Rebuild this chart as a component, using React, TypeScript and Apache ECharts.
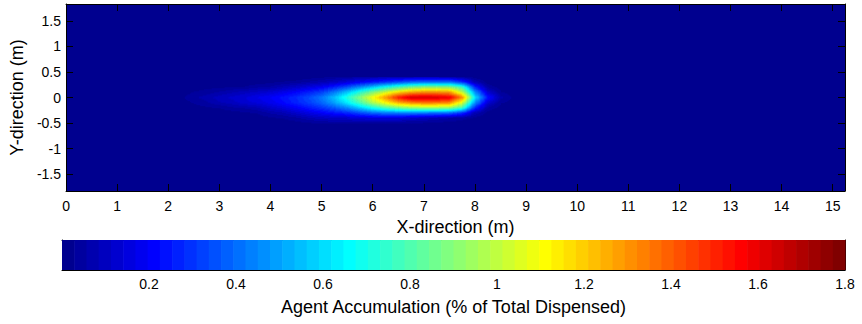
import React, { useEffect, useRef } from "react";
import * as echarts from "echarts";

// ---- axis definitions ----
const X_RANGE = [0, 15.24];
const Y_RANGE = [-1.83, 1.83];
const CB_RANGE = [0, 1.8];
const X_TICKS = [0, 1, 2, 3, 4, 5, 6, 7, 8, 9, 10, 11, 12, 13, 14, 15];
const Y_TICKS = [-1.5, -1, -0.5, 0, 0.5, 1, 1.5];
const CB_TICKS = [0.2, 0.4, 0.6, 0.8, 1, 1.2, 1.4, 1.6, 1.8];

// ---- data grid (node positions and values) ----
const X_NODES = [
  2.25, 2.5, 2.75, 3.0, 3.25, 3.5, 3.75, 4.0, 4.25, 4.5, 4.75, 5.0, 5.25, 5.5,
  5.75, 6.0, 6.25, 6.5, 6.75, 7.0, 7.25, 7.5, 7.75, 8.0, 8.25, 8.5, 8.75,
];
const Y_NODES = [0.4, 0.3, 0.2, 0.1, 0.0, -0.1, -0.2, -0.3, -0.4, -0.5];

const ROW_P04 = [0, 0, 0, 0, 0, 0, 0, 0, 0, 0, 0.01, 0.02, 0.03, 0.04, 0.05, 0.06, 0.07, 0.08, 0.08, 0.08, 0.08, 0.07, 0.04, 0.01, 0, 0, 0];
const ROW_P03 = [0, 0, 0, 0, 0, 0.01, 0.01, 0.02, 0.03, 0.04, 0.06, 0.08, 0.11, 0.15, 0.2, 0.25, 0.3, 0.35, 0.4, 0.42, 0.42, 0.42, 0.3, 0.08, 0.01, 0, 0];
const ROW_P02 = [0, 0.01, 0.02, 0.02, 0.03, 0.03, 0.05, 0.06, 0.09, 0.12, 0.16, 0.2, 0.27, 0.36, 0.47, 0.58, 0.7, 0.8, 0.88, 0.93, 0.93, 0.92, 0.78, 0.28, 0.05, 0.01, 0];
const ROW_P01 = [0.01, 0.03, 0.04, 0.06, 0.08, 0.1, 0.12, 0.14, 0.18, 0.22, 0.27, 0.33, 0.44, 0.58, 0.74, 0.9, 1.05, 1.18, 1.27, 1.31, 1.31, 1.29, 1.02, 0.48, 0.14, 0.03, 0.01];
const ROW_000 = [0.02, 0.05, 0.07, 0.1, 0.12, 0.14, 0.17, 0.2, 0.24, 0.28, 0.34, 0.42, 0.55, 0.72, 0.9, 1.1, 1.3, 1.52, 1.65, 1.66, 1.64, 1.6, 1.33, 0.62, 0.24, 0.07, 0.02];
const ROW_M01 = [0.01, 0.03, 0.05, 0.08, 0.1, 0.13, 0.15, 0.18, 0.22, 0.27, 0.32, 0.39, 0.5, 0.64, 0.8, 0.97, 1.12, 1.26, 1.34, 1.37, 1.36, 1.33, 1.06, 0.48, 0.14, 0.03, 0.01];
const ROW_M02 = [0, 0.01, 0.02, 0.03, 0.05, 0.06, 0.08, 0.12, 0.15, 0.2, 0.25, 0.3, 0.37, 0.46, 0.58, 0.7, 0.8, 0.88, 0.93, 0.95, 0.95, 0.93, 0.78, 0.28, 0.05, 0.01, 0];
const ROW_M03 = [0, 0, 0, 0, 0.01, 0.02, 0.03, 0.06, 0.08, 0.12, 0.16, 0.2, 0.24, 0.28, 0.34, 0.4, 0.43, 0.44, 0.44, 0.43, 0.42, 0.4, 0.3, 0.08, 0.01, 0, 0];
const ROW_M04 = [0, 0, 0, 0, 0, 0, 0.01, 0.02, 0.03, 0.05, 0.08, 0.1, 0.11, 0.12, 0.14, 0.15, 0.15, 0.15, 0.12, 0.1, 0.08, 0.06, 0.04, 0.01, 0, 0, 0];
const ROW_M05 = [0, 0, 0, 0, 0, 0, 0, 0, 0, 0.01, 0.02, 0.03, 0.04, 0.04, 0.04, 0.04, 0.03, 0.03, 0.02, 0.02, 0.01, 0.01, 0, 0, 0, 0, 0];

const GRID_ROWS = [ROW_P04, ROW_P03, ROW_P02, ROW_P01, ROW_000, ROW_M01, ROW_M02, ROW_M03, ROW_M04, ROW_M05];

const COLORBAR_STEPS = 64;
const SUB_X = 10; // shading subdivisions per quad (rendering only)
const SUB_Y = 5;

// ---- jet colormap ----
function clamp01(v: number) {
  return Math.max(0, Math.min(1, v));
}
function jet(t: number): string {
  const r = clamp01(Math.min(4 * t - 1.5, -4 * t + 4.5));
  const g = clamp01(Math.min(4 * t - 0.5, -4 * t + 3.5));
  const b = clamp01(Math.min(4 * t + 0.5, -4 * t + 2.5));
  const h = (v: number) => Math.round(v * 255).toString(16).padStart(2, "0");
  return "#" + h(r) + h(g) + h(b);
}
const JET64 = Array.from({ length: COLORBAR_STEPS }, (_, i) => jet((i + 1) / COLORBAR_STEPS));
function colorOf(v: number) {
  const t = (v - CB_RANGE[0]) / (CB_RANGE[1] - CB_RANGE[0]);
  const idx = Math.max(0, Math.min(COLORBAR_STEPS - 1, Math.floor(t * COLORBAR_STEPS)));
  return JET64[idx];
}

const FONT = "'Liberation Sans', Arial, Helvetica, sans-serif";

export default function App() {
  const ref = useRef<HTMLDivElement>(null);

  useEffect(() => {
    if (!ref.current) return;
    const chart = echarts.init(ref.current, null, { renderer: "svg" });

    // quads between neighbouring nodes: [x0, yTop, x1, yBottom, vTL, vTR, vBL, vBR]
    const quads: number[][] = [];
    for (let r = 0; r < GRID_ROWS.length - 1; r++) {
      for (let c = 0; c < X_NODES.length - 1; c++) {
        const vTL = GRID_ROWS[r][c];
        const vTR = GRID_ROWS[r][c + 1];
        const vBL = GRID_ROWS[r + 1][c];
        const vBR = GRID_ROWS[r + 1][c + 1];
        if (vTL + vTR + vBL + vBR <= 0) continue;
        quads.push([X_NODES[c], Y_NODES[r], X_NODES[c + 1], Y_NODES[r + 1], vTL, vTR, vBL, vBR]);
      }
    }
    const cbData = JET64.map((_, i) => [i]);

    const axisLine = { show: true, onZero: false, lineStyle: { color: "#000", width: 1 } };
    const labelStyle = { color: "#000", fontSize: 14, fontFamily: FONT };
    const nameStyle = { color: "#000", fontSize: 18, fontFamily: FONT };

    chart.setOption({
      animation: false,
      backgroundColor: "#fff",
      grid: [
        { left: 62, top: 4, width: 783, height: 187, show: true, backgroundColor: JET64[0], borderWidth: 0 },
        { left: 62, top: 240, width: 783, height: 30, show: false },
      ],
      xAxis: [
        {
          gridIndex: 0, type: "value", min: X_RANGE[0], max: X_RANGE[1], position: "bottom",
          axisLine, splitLine: { show: false },
          axisTick: { show: true, inside: true, length: 7, customValues: X_TICKS, lineStyle: { color: "#000" } },
          axisLabel: { ...labelStyle, margin: 8, customValues: X_TICKS },
          name: "X-direction (m)", nameLocation: "middle", nameGap: 26, nameTextStyle: nameStyle,
        },
        {
          gridIndex: 0, type: "value", min: X_RANGE[0], max: X_RANGE[1], position: "top",
          axisLine, splitLine: { show: false },
          axisTick: { show: true, inside: true, length: 7, customValues: X_TICKS, lineStyle: { color: "#000" } },
          axisLabel: { show: false },
        },
        {
          gridIndex: 1, type: "value", min: CB_RANGE[0], max: CB_RANGE[1], position: "bottom",
          axisLine, splitLine: { show: false },
          axisTick: { show: true, inside: true, length: 5, customValues: CB_TICKS, lineStyle: { color: "#000" } },
          axisLabel: { ...labelStyle, margin: 7, customValues: CB_TICKS },
          name: "Agent Accumulation (% of Total Dispensed)", nameLocation: "middle", nameGap: 28, nameTextStyle: nameStyle,
        },
        {
          gridIndex: 1, type: "value", min: CB_RANGE[0], max: CB_RANGE[1], position: "top",
          axisLine, splitLine: { show: false },
          axisTick: { show: true, inside: true, length: 5, customValues: CB_TICKS, lineStyle: { color: "#000" } },
          axisLabel: { show: false },
        },
      ],
      yAxis: [
        {
          gridIndex: 0, type: "value", min: Y_RANGE[0], max: Y_RANGE[1], position: "left",
          axisLine, splitLine: { show: false },
          axisTick: { show: true, inside: true, length: 7, customValues: Y_TICKS, lineStyle: { color: "#000" } },
          axisLabel: { ...labelStyle, margin: 5, customValues: Y_TICKS },
          name: "Y-direction (m)", nameLocation: "middle", nameGap: 34, nameRotate: 90, nameTextStyle: nameStyle,
        },
        {
          gridIndex: 0, type: "value", min: Y_RANGE[0], max: Y_RANGE[1], position: "right",
          axisLine, splitLine: { show: false },
          axisTick: { show: true, inside: true, length: 7, customValues: Y_TICKS, lineStyle: { color: "#000" } },
          axisLabel: { show: false },
        },
        {
          gridIndex: 1, type: "value", min: 0, max: 1, position: "left",
          axisLine, splitLine: { show: false }, axisTick: { show: false }, axisLabel: { show: false },
        },
        {
          gridIndex: 1, type: "value", min: 0, max: 1, position: "right",
          axisLine, splitLine: { show: false }, axisTick: { show: false }, axisLabel: { show: false },
        },
      ],
      series: [
        {
          type: "custom",
          xAxisIndex: 0,
          yAxisIndex: 0,
          z: 1,
          encode: { x: [0, 2], y: [1, 3] },
          data: quads,
          renderItem: (params: any, api: any) => {
            const x0 = api.value(0), y0 = api.value(1), x1 = api.value(2), y1 = api.value(3);
            const vTL = api.value(4), vTR = api.value(5), vBL = api.value(6), vBR = api.value(7);
            const pA = api.coord([x0, y0]);
            const pB = api.coord([x1, y1]);
            const w = (pB[0] - pA[0]) / SUB_X;
            const h = (pB[1] - pA[1]) / SUB_Y;
            const children: any[] = [];
            for (let j = 0; j < SUB_Y; j++) {
              const fy = (j + 0.5) / SUB_Y;
              let runStart = 0;
              let runColor = "";
              for (let i = 0; i <= SUB_X; i++) {
                let col = "";
                if (i < SUB_X) {
                  const fx = (i + 0.5) / SUB_X;
                  const v = vTL * (1 - fx) * (1 - fy) + vTR * fx * (1 - fy) + vBL * (1 - fx) * fy + vBR * fx * fy;
                  col = colorOf(v);
                }
                if (i === 0) {
                  runColor = col;
                  runStart = 0;
                } else if (col !== runColor) {
                  if (runColor !== JET64[0]) {
                    children.push({
                      type: "rect",
                      shape: { x: pA[0] + runStart * w, y: pA[1] + j * h, width: (i - runStart) * w + 0.5, height: h + 0.5 },
                      style: { fill: runColor },
                    });
                  }
                  runColor = col;
                  runStart = i;
                }
              }
            }
            return { type: "group", children };
          },
        },
        {
          type: "custom",
          xAxisIndex: 2,
          yAxisIndex: 2,
          z: 1,
          data: cbData,
          renderItem: (params: any, api: any) => {
            const i = api.value(0);
            const step = (CB_RANGE[1] - CB_RANGE[0]) / COLORBAR_STEPS;
            const p0 = api.coord([CB_RANGE[0] + i * step, 1]);
            const p1 = api.coord([CB_RANGE[0] + (i + 1) * step, 0]);
            return {
              type: "rect",
              shape: { x: p0[0], y: p0[1], width: p1[0] - p0[0] + 0.6, height: p1[1] - p0[1] },
              style: { fill: JET64[i] },
            };
          },
        },
      ],
    });

    return () => chart.dispose();
  }, []);

  return (
    <div
      ref={ref}
      style={{ position: "fixed", left: 0, top: 0, width: 862, height: 324, background: "#fff" }}
    />
  );
}
